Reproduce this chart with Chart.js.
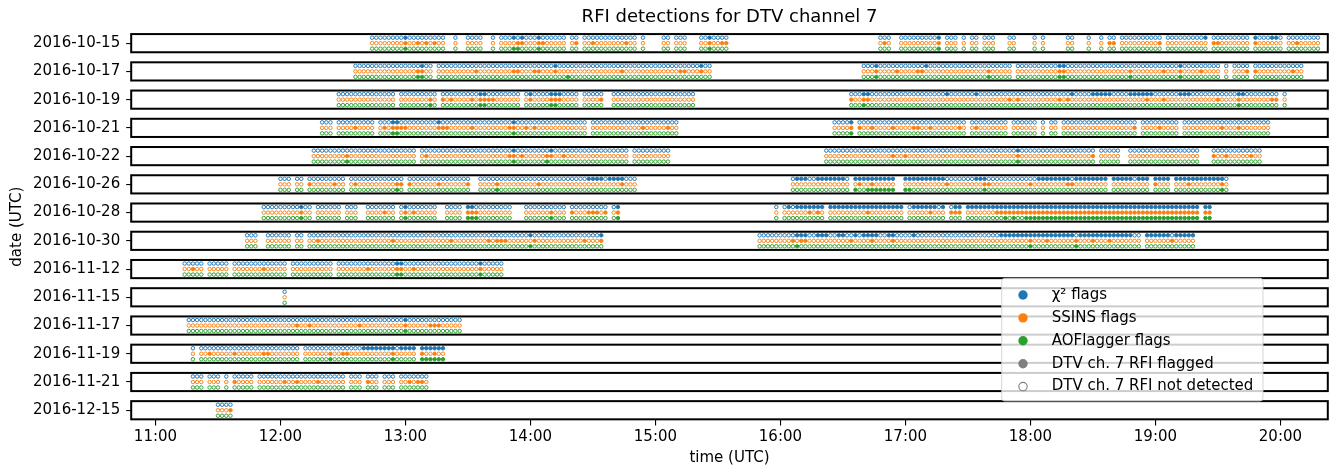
<!DOCTYPE html>
<html>
<head>
<meta charset="utf-8">
<script src="https://cdn.jsdelivr.net/npm/chart.js@4.4.1/dist/chart.umd.min.js"></script>
<style>
  html, body { margin: 0; padding: 0; background: #ffffff; }
  #wrap { width: 1337px; height: 467px; }
</style>
</head>
<body>
<div id="wrap"><canvas id="rfi" width="1337" height="467"></canvas></div>
<script>
// Observation nights, top to bottom
const dates = ['2016-10-15', '2016-10-17', '2016-10-19', '2016-10-21', '2016-10-22', '2016-10-26',
  '2016-10-28', '2016-10-30', '2016-11-12', '2016-11-15', '2016-11-17', '2016-11-19',
  '2016-11-21', '2016-12-15'];

// Observations are on a 2-minute grid; slot 0 is 10:48 UTC
const gridStartHour = 10.8;
const slotMinutes = 2;

// Runs of consecutive observation slots [first, last] for each night
const observedRuns = [
  [[58,75],[78,78],[81,84],[87,87],[89,104],[106,107],[109,121],[123,123],[128,129],[131,133],[137,143],[180,182],[185,194],[196,198],[200,200],[202,203],[205,207],[211,212],[217,217],[219,219],[225,226],[230,230],[233,233],[235,236],[238,247],[249,258],[260,268],[270,276],[278,285]],
  [[54,72],[74,139],[176,211],[213,261],[263,263],[265,268],[270,281]],
  [[50,63],[65,73],[75,93],[95,107],[109,113],[116,135],[173,275],[277,277]],
  [[46,48],[50,58],[60,109],[111,131],[169,173],[175,200],[202,210],[212,217],[219,219],[221,222],[224,241],[243,251],[253,273]],
  [[44,68],[70,119],[121,129],[167,231],[233,237],[240,256],[260,271]],
  [[36,38],[40,41],[43,51],[53,65],[67,81],[84,121],[159,172],[174,183],[186,234],[236,244],[246,249],[251,263]],
  [[32,43],[45,50],[52,54],[57,63],[65,73],[76,79],[81,91],[95,104],[106,114],[116,117],[155,155],[157,166],[168,185],[187,195],[197,199],[201,256],[258,259]],
  [[28,30],[33,38],[40,41],[43,113],[151,242],[244,255]],
  [[13,17],[19,23],[25,37],[39,48],[50,89]],
  [[37,37]],
  [[14,79]],
  [[15,15],[17,40],[42,68],[70,75]],
  [[15,17],[19,21],[23,23],[25,29],[31,51],[53,55],[57,59],[61,63],[65,71]],
  [[21,24]]
];

// Slots flagged by the chi-squared test
const chi2Runs = [
  [[66,66],[92,92],[94,94],[98,98],[139,139],[194,194],[258,258],[270,270],[274,275]],
  [[70,70],[102,102],[137,137],[179,179],[191,191],[223,224],[252,252]],
  [[84,85],[96,96],[101,103],[176,177],[196,196],[203,203],[226,226],[231,235],[240,245],[252,254],[266,267]],
  [[63,64],[74,74],[92,92],[173,173]],
  [[92,92],[101,101],[213,213]],
  [[110,113],[115,118],[160,162],[165,171],[174,183],[186,195],[203,205],[218,225],[227,234],[236,240],[242,244],[246,249],[251,262]],
  [[41,41],[66,66],[81,82],[117,117],[158,158],[160,166],[168,185],[188,193],[195,195],[198,199],[201,256],[258,259]],
  [[96,96],[113,113],[160,162],[165,167],[170,171],[174,174],[176,179],[182,183],[188,188],[209,226],[228,240],[244,249],[251,255]],
  [[64,65],[84,84]],
  [],
  [[66,66]],
  [[56,63],[65,68],[70,75]],
  [],
  []
];

// Slots flagged by SSINS
const ssinsRuns = [
  [[66,66],[69,69],[71,71],[73,73],[93,94],[98,99],[107,107],[111,111],[119,119],[139,139],[142,143],[181,181],[194,194],[235,236],[247,247],[260,261],[270,270],[280,280]],
  [[69,70],[83,83],[92,93],[97,98],[102,102],[118,118],[132,133],[137,137],[179,179],[184,184],[189,190],[206,206],[223,224],[240,240],[248,248],[252,252],[257,257],[268,268],[270,270],[279,279]],
  [[72,72],[75,75],[77,77],[82,82],[84,87],[96,96],[101,103],[113,113],[173,173],[176,177],[211,211],[213,213],[223,223],[225,225],[244,244],[248,248],[261,261],[266,266],[274,275]],
  [[54,54],[61,61],[63,66],[74,76],[82,82],[91,92],[95,95],[97,97],[123,123],[129,129],[173,173],[175,175],[178,178],[183,183],[188,189],[192,192],[199,199],[203,203],[241,241],[247,247],[262,262],[266,266]],
  [[52,52],[71,71],[91,92],[94,94],[100,101],[104,104],[183,183],[186,186],[213,213],[231,231],[260,260],[263,263],[269,269]],
  [[43,43],[49,49],[54,54],[64,65],[67,67],[74,74],[81,81],[88,88],[98,98],[118,118],[175,175],[178,178],[196,196],[205,206],[216,216],[225,226],[246,246],[254,254],[262,262]],
  [[41,41],[61,61],[66,66],[68,68],[81,83],[101,101],[106,106],[110,112],[114,114],[117,117],[163,163],[165,165],[177,177],[192,192],[197,199],[208,256],[258,259]],
  [[45,45],[63,63],[77,77],[86,86],[88,90],[97,97],[109,109],[113,113],[159,159],[161,162],[173,173],[178,178],[183,183],[216,216],[220,220],[227,227],[231,231],[235,235],[250,250]],
  [[15,15],[32,32],[57,57],[64,65],[68,68],[84,84]],
  [],
  [[40,40],[43,43],[55,55],[66,66],[72,74]],
  [[19,19],[25,25],[32,33],[48,48],[51,52],[63,63],[70,70],[73,73]],
  [[25,25],[37,37],[40,40],[45,45],[57,57],[67,67],[69,70]],
  [[24,24]]
];

// Slots flagged by AOFlagger
const aoflaggerRuns = [
  [[66,66],[92,93],[98,98],[139,139],[194,194]],
  [[69,70],[105,105],[179,179],[206,206],[223,224],[240,240],[252,252]],
  [[72,72],[84,85],[101,102],[176,176],[266,266]],
  [[63,64],[92,92],[173,173]],
  [[52,52],[92,92],[100,100],[213,213]],
  [[64,64],[88,88],[174,174],[177,183],[186,187],[205,205],[262,262]],
  [[41,41],[66,66],[81,83],[101,101],[117,117],[210,210],[212,212],[215,256],[258,259]],
  [[96,96],[160,160],[216,216],[227,227]],
  [[64,65],[84,84]],
  [],
  [[66,66]],
  [[48,48],[63,63],[70,75]],
  [],
  []
];

// Hour ticks along the time axis
const hourTicks = [11, 12, 13, 14, 15, 16, 17, 18, 19, 20];

const COLORS = { chi2: '#1f77b4', ssins: '#ff7f0e', aof: '#2ca02c', gray: '#7f7f7f' };
const FONT = "'DejaVu Sans', 'Liberation Sans', sans-serif";

function expandRuns(runs) {
  const out = [];
  runs.forEach(([a, b]) => { for (let k = a; k <= b; k++) out.push(k); });
  return out;
}

function slotToHour(k) {
  return gridStartHour + k * slotMinutes / 60;
}

const series = [
  { label: 'χ² flags', color: COLORS.chi2, runs: chi2Runs, dy: -0.195 },
  { label: 'SSINS flags', color: COLORS.ssins, runs: ssinsRuns, dy: 0 },
  { label: 'AOFlagger flags', color: COLORS.aof, runs: aoflaggerRuns, dy: 0.195 }
];

const datasets = series.map(s => {
  const data = [];
  const fills = [];
  dates.forEach((d, i) => {
    const flagged = new Set(expandRuns(s.runs[i]));
    const slots = new Set(expandRuns(observedRuns[i]));
    flagged.forEach(k => slots.add(k));
    [...slots].sort((a, b) => a - b).forEach(k => {
      data.push({ x: slotToHour(k), y: i + s.dy });
      fills.push(flagged.has(k) ? s.color : '#ffffff');
    });
  });
  return {
    label: s.label,
    data,
    showLine: false,
    pointRadius: 1.75,
    pointBorderWidth: 0.95,
    pointBorderColor: s.color,
    pointBackgroundColor: fills,
    pointHoverRadius: 1.75
  };
});

// One framed strip per night
const nightFrames = {
  id: 'nightFrames',
  beforeDatasetsDraw(chart) {
    const { ctx, chartArea, scales } = chart;
    ctx.save();
    ctx.strokeStyle = '#000000';
    ctx.lineWidth = 2;
    dates.forEach((d, i) => {
      const top = scales.y.getPixelForValue(i - 0.322);
      const bottom = scales.y.getPixelForValue(i + 0.322);
      ctx.strokeRect(chartArea.left, top, chartArea.right - chartArea.left, bottom - top);
    });
    ctx.restore();
  }
};

// Marker key drawn in a translucent box
const markerKey = {
  id: 'markerKey',
  afterDraw(chart) {
    const ctx = chart.ctx;
    const box = { x: 1001.7, y: 278.3, w: 261.3, h: 122.7, r: 3 };
    ctx.save();
    ctx.beginPath();
    ctx.roundRect(box.x, box.y, box.w, box.h, box.r);
    ctx.fillStyle = 'rgba(255,255,255,0.8)';
    ctx.fill();
    ctx.strokeStyle = 'rgba(204,204,204,0.8)';
    ctx.lineWidth = 1;
    ctx.stroke();
    const entries = [
      { text: 'χ² flags', fill: COLORS.chi2, edge: COLORS.chi2 },
      { text: 'SSINS flags', fill: COLORS.ssins, edge: COLORS.ssins },
      { text: 'AOFlagger flags', fill: COLORS.aof, edge: COLORS.aof },
      { text: 'DTV ch. 7 RFI flagged', fill: COLORS.gray, edge: COLORS.gray },
      { text: 'DTV ch. 7 RFI not detected', fill: '#ffffff', edge: COLORS.gray }
    ];
    ctx.font = '15px ' + FONT;
    ctx.textBaseline = 'middle';
    ctx.textAlign = 'left';
    entries.forEach((e, j) => {
      const cy = box.y + 16.7 + j * 22.9;
      ctx.beginPath();
      ctx.arc(box.x + 21.3, cy, e.fill === '#ffffff' ? 4.2 : 4.7, 0, Math.PI * 2);
      ctx.fillStyle = e.fill;
      ctx.fill();
      if (e.fill === '#ffffff') {
        ctx.lineWidth = 1.1;
        ctx.strokeStyle = e.edge;
        ctx.stroke();
      }
      ctx.fillStyle = '#000000';
      ctx.fillText(e.text, box.x + 50, cy);
    });
    ctx.restore();
  }
};

Chart.defaults.font.family = FONT;
Chart.defaults.color = '#000000';

new Chart(document.getElementById('rfi'), {
  type: 'scatter',
  data: { datasets },
  options: {
    responsive: false,
    animation: false,
    devicePixelRatio: 1,
    events: [],
    layout: { padding: { left: 0, right: 9.2, top: 0, bottom: 0 } },
    plugins: {
      legend: { display: false },
      tooltip: { enabled: false },
      title: {
        display: true,
        text: 'RFI detections for DTV channel 7',
        fullSize: false,
        color: '#000000',
        font: { size: 18, weight: 'normal', family: FONT, lineHeight: 1.2 },
        padding: { top: 7, bottom: 4.4 }
      }
    },
    scales: {
      x: {
        type: 'linear',
        min: 10.806,
        max: 20.379,
        afterBuildTicks(scale) { scale.ticks = hourTicks.map(v => ({ value: v })); },
        afterFit(scale) { scale.height = 46.6; },
        ticks: {
          autoSkip: false,
          maxRotation: 0,
          padding: 3,
          font: { size: 15 },
          callback: v => v + ':00'
        },
        grid: { drawOnChartArea: false, drawTicks: true, tickLength: 5, color: '#000000', lineWidth: 1.1 },
        border: { display: false },
        title: { display: true, text: 'time (UTC)', font: { size: 15 }, padding: { top: 0, bottom: 0 } }
      },
      y: {
        type: 'linear',
        reverse: true,
        min: -0.36,
        max: 13.36,
        afterBuildTicks(scale) { scale.ticks = dates.map((d, i) => ({ value: i })); },
        afterFit(scale) { scale.width = 131.2; },
        ticks: {
          autoSkip: false,
          padding: 6,
          font: { size: 15 },
          callback: v => dates[v]
        },
        grid: { drawOnChartArea: false, drawTicks: true, tickLength: 5, color: '#000000', lineWidth: 1.1 },
        border: { display: false },
        title: { display: true, text: 'date (UTC)', font: { size: 15 }, padding: { top: 8.5, bottom: 0 } }
      }
    }
  },
  plugins: [nightFrames, markerKey]
});
</script>
</body>
</html>
